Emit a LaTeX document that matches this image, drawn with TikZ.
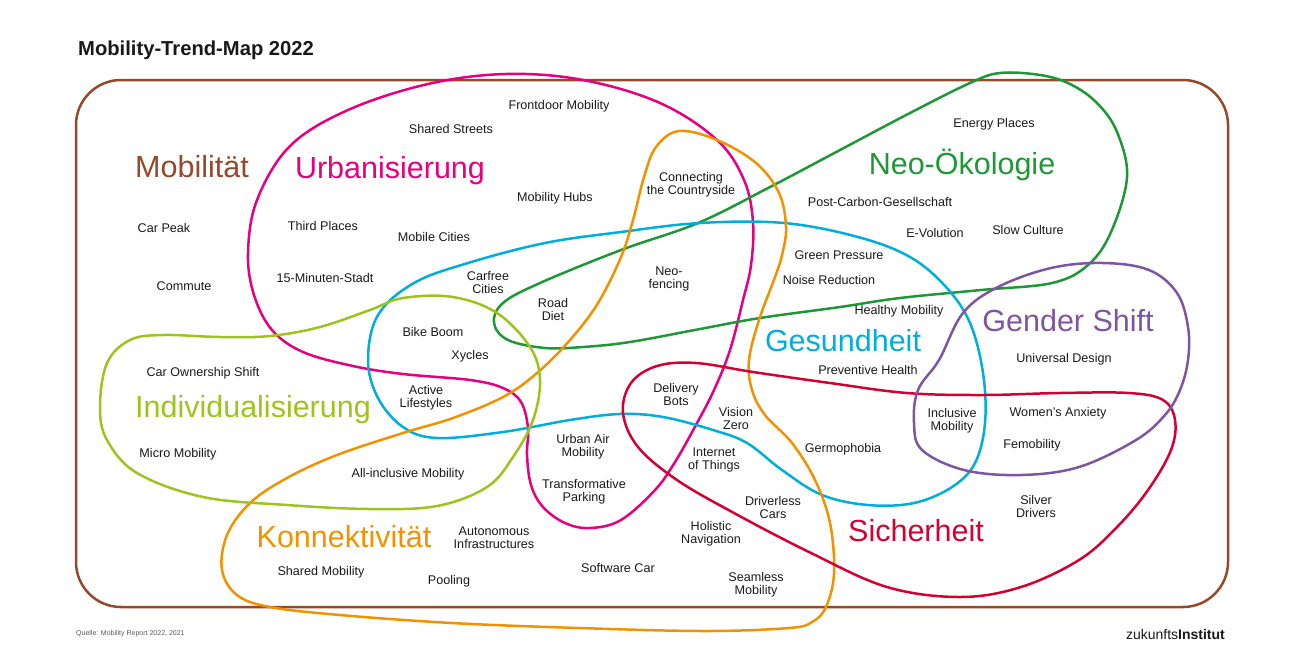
\documentclass[tikz,border=0pt]{standalone}
\usepackage{fontspec}
\setmainfont{Liberation Sans}
\definecolor{brownc}{RGB}{150,72,42}
\definecolor{magc}{RGB}{230,0,126}
\definecolor{greenc}{RGB}{30,152,55}
\definecolor{cyanc}{RGB}{0,174,219}
\definecolor{orangec}{RGB}{243,146,0}
\definecolor{limec}{RGB}{157,195,30}
\definecolor{redc}{RGB}{213,0,50}
\definecolor{purplec}{RGB}{125,85,160}
\definecolor{txt}{RGB}{25,25,25}
\definecolor{grayt}{RGB}{90,90,90}
\tikzset{
  lbl/.style={font=\fontsize{12.6}{13}\selectfont, text=txt, align=center, inner sep=0pt},
  cat/.style={font=\fontsize{30.5}{32}\selectfont, inner sep=0pt},
  loopline/.style={line width=2.5pt, line join=round},
  smoothloop/.style={smooth cycle, tension=0.6}
}
\begin{document}
\begin{tikzpicture}[x=1pt,y=-1pt]
\useasboundingbox (0,0) rectangle (1300,670);
% frame
\draw[brownc, line width=2.5pt, rounded corners=45pt] (76,80) rectangle (1228,607);
% Urbanisierung
\draw[loopline, magc] plot[smoothloop] coordinates {(506,74) (583,80) (660,103) (717,140) (744,180) (753,222) (751,265) (743,300) (730,350) (714,390) (697,423) (675,462) (655,490) (621,520) (590,528) (565,523) (543,507) (531,485) (527,455) (528,428) (521,402) (503,388) (470,380) (403,374) (353,366) (303,352) (272,330) (254,295) (248,253) (257,200) (290,146) (348,110) (428,84)};
% Neo-Oekologie
\draw[loopline, greenc] plot[smoothloop] coordinates {(1000,73) (1040,75) (1070,84) (1097,103) (1117,132) (1127,177) (1111,232) (1088,265) (1052,283) (981,290) (900,298) (840,307) (760,318) (700,329) (630,342) (583,347) (545,348) (508,340) (494,323) (503,303) (540,283) (621,250) (698,223) (770,187) (840,150) (910,113) (970,83)};
% Gesundheit
\draw[loopline, cyanc] plot[smoothloop] coordinates {(414,283) (468,263) (545,243) (621,232) (700,223) (784,223) (858,237) (910,257) (946,287) (970,323) (983,373) (985,423) (975,463) (952,487) (914,503) (868,505) (822,495) (782,470) (747,443) (713,430) (663,417) (620,414) (570,420) (503,432) (437,438) (403,427) (378,398) (368,360) (378,315)};
% Konnektivitaet
\draw[loopline, orangec] plot[smoothloop] coordinates {(679,131) (717,140) (756,163) (779,193) (786,227) (782,255) (775,277) (759,320) (749,360) (752,390) (765,415) (792,443) (815,480) (830,523) (834,573) (826,607) (812,622) (789,628) (705,631) (579,628) (452,623) (340,615) (270,607) (237,595) (222,570) (227,535) (250,503) (287,478) (337,455) (403,433) (453,418) (503,397) (537,373) (570,340) (598,303) (621,257) (633,220) (644,177) (656,147)};
% Individualisierung
\draw[loopline, limec] plot[smoothloop] coordinates {(403,298) (453,297) (497,313) (530,347) (540,380) (533,420) (513,457) (487,487) (437,506) (370,509) (287,505) (203,497) (137,473) (107,440) (100,407) (107,363) (130,340) (163,335) (220,337) (270,336) (320,327) (370,310)};
% Sicherheit
\draw[loopline, redc] plot[smoothloop] coordinates {(631,383) (657,366) (696,363) (753,372) (830,383) (907,393) (983,395) (1060,393) (1129,393) (1163,400) (1175,420) (1171,450) (1148,490) (1117,527) (1079,560) (1021,587) (960,597) (887,587) (811,553) (734,513) (677,480) (638,447) (623,413)};
% Gender Shift
\draw[loopline, purplec] plot[smoothloop] coordinates {(1103,263) (1149,270) (1177,293) (1188,327) (1188,360) (1180,390) (1165,415) (1136,440) (1079,467) (1021,475) (964,470) (922,450) (914,423) (918,390) (939,360) (963,313) (998,287) (1051,268)};

% title and footer
\node[anchor=west, inner sep=0pt, text=txt, font=\fontsize{20.2}{21}\selectfont\bfseries] (title) at (78,50) {Mobility-Trend-Map 2022};
\node[anchor=west, inner sep=0pt, text=grayt, font=\fontsize{7}{8}\selectfont] (source) at (76,634) {Quelle: Mobility Report 2022, 2021};
\node[anchor=east, inner sep=0pt, text=txt, font=\fontsize{14}{15}\selectfont] (logo) at (1225,634) {zukunfts\textbf{Institut}};

% category labels
\node[cat, text=brownc] (mob) at (192,167) {Mobilität};
\node[cat, text=magc] (urb) at (390,171) {Urbanisierung};
\node[cat, text=greenc] (neo) at (962,165) {Neo-Ökologie};
\node[cat, text=cyanc] (ges) at (843,341) {Gesundheit};
\node[cat, text=purplec] (gen) at (1068,321) {Gender Shift};
\node[cat, text=limec] (ind) at (253,410) {Individualisierung};
\node[cat, text=orangec] (kon) at (344,537) {Konnektivität};
\node[cat, text=redc] (sic) at (916,531) {Sicherheit};

% trend labels
\node[lbl] (t1) at (559,106) {Frontdoor Mobility};
\node[lbl] (t2) at (451,129) {Shared Streets};
\node[lbl] (t3) at (691,185) {Connecting\\the Countryside};
\node[lbl] (t4) at (555,198) {Mobility Hubs};
\node[lbl] (t5) at (323,226) {Third Places};
\node[lbl] (t6) at (434,237) {Mobile Cities};
\node[lbl] (t7) at (164,228) {Car Peak};
\node[lbl] (t8) at (184,286) {Commute};
\node[lbl] (t9) at (325,278) {15-Minuten-Stadt};
\node[lbl] (t10) at (488,282) {Carfree\\Cities};
\node[lbl] (t11) at (669,279) {Neo-\\fencing};
\node[lbl] (t12) at (553,309) {Road\\Diet};
\node[lbl] (t13) at (994,124) {Energy Places};
\node[lbl] (t14) at (880,202) {Post-Carbon-Gesellschaft};
\node[lbl] (t15) at (935,233) {E-Volution};
\node[lbl] (t16) at (1028,230) {Slow Culture};
\node[lbl] (t17) at (839,255) {Green Pressure};
\node[lbl] (t18) at (829,280) {Noise Reduction};
\node[lbl] (t19) at (899,311) {Healthy Mobility};
\node[lbl] (t20) at (433,332) {Bike Boom};
\node[lbl] (t21) at (470,356) {Xycles};
\node[lbl] (t22) at (203,373) {Car Ownership Shift};
\node[lbl] (t23) at (1064,359) {Universal Design};
\node[lbl] (t24) at (868,370) {Preventive Health};
\node[lbl] (t25) at (426,398) {Active\\Lifestyles};
\node[lbl] (t26) at (676,394) {Delivery\\Bots};
\node[lbl] (t27) at (736,418) {Vision\\Zero};
\node[lbl] (t28) at (952,421) {Inclusive\\Mobility};
\node[lbl] (t29) at (1058,413) {Women's Anxiety};
\node[lbl] (t30) at (1032,445) {Femobility};
\node[lbl] (t31) at (178,454) {Micro Mobility};
\node[lbl] (t32) at (583,447) {Urban Air\\Mobility};
\node[lbl] (t33) at (714,460) {Internet\\of Things};
\node[lbl] (t34) at (843,449) {Germophobia};
\node[lbl] (t35) at (408,474) {All-inclusive Mobility};
\node[lbl] (t36) at (584,492) {Transformative\\Parking};
\node[lbl] (t37) at (773,507) {Driverless\\Cars};
\node[lbl] (t38) at (1036,506) {Silver\\Drivers};
\node[lbl] (t39) at (494,538) {Autonomous\\Infrastructures};
\node[lbl] (t40) at (711,534) {Holistic\\Navigation};
\node[lbl] (t41) at (321,572) {Shared Mobility};
\node[lbl] (t42) at (618,568) {Software Car};
\node[lbl] (t43) at (449,581) {Pooling};
\node[lbl] (t44) at (756,585) {Seamless\\Mobility};
\end{tikzpicture}
\end{document}
